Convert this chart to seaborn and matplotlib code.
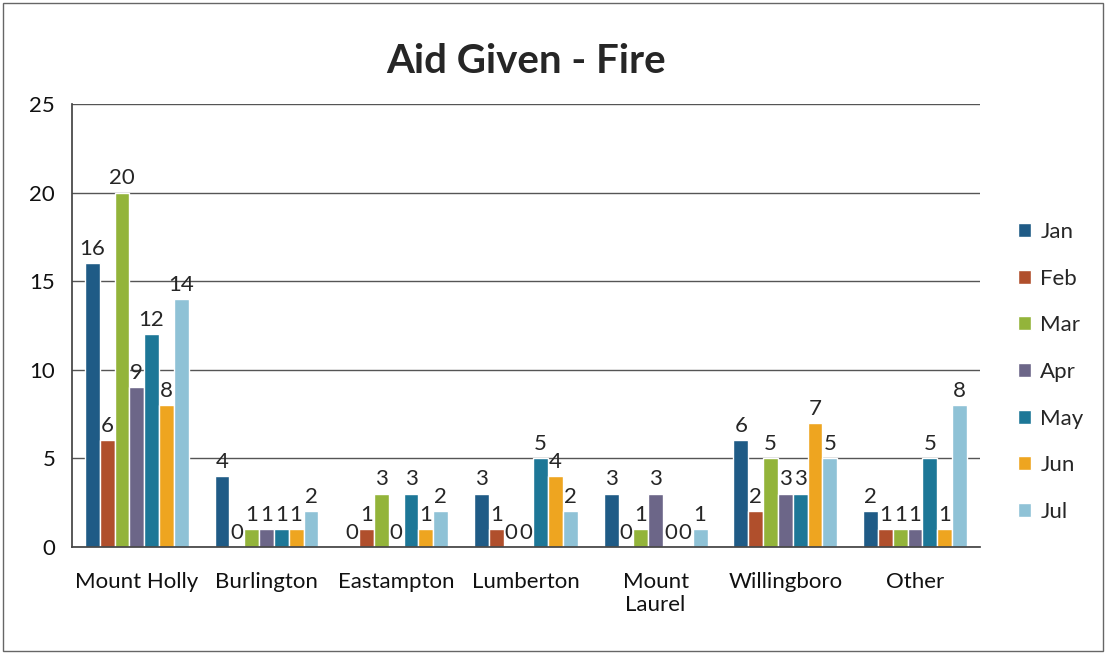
import seaborn as sns
import matplotlib.pyplot as plt
import pandas as pd

towns = ["Mount Holly", "Burlington", "Eastampton", "Lumberton",
         "Mount\nLaurel", "Willingboro", "Other"]
months = ["Jan", "Feb", "Mar", "Apr", "May", "Jun", "Jul"]
jan = [16, 4, 0, 3, 3, 6, 2]
feb = [6, 0, 1, 1, 0, 2, 1]
mar = [20, 1, 3, 0, 1, 5, 1]
apr = [9, 1, 0, 0, 3, 3, 1]
may = [12, 1, 3, 5, 0, 3, 5]
jun = [8, 1, 1, 4, 0, 7, 1]
jul = [14, 2, 2, 2, 1, 5, 8]
colors = ["#1f5b86", "#b04f2c", "#93b43a", "#6c6688", "#1d7797", "#eea520", "#8fc2d6"]

series = [jan, feb, mar, apr, may, jun, jul]
rows = []
for m, vals in zip(months, series):
    for t, v in zip(towns, vals):
        rows.append({"town": t, "month": m, "count": v})
df = pd.DataFrame(rows)

sns.set_theme(style="white")
plt.rcParams["font.family"] = ["Lato", "DejaVu Sans"]

fig = plt.figure(figsize=(11.06, 6.54), dpi=100)
ax = fig.add_axes([0.065, 0.164, 0.821, 0.677])

sns.barplot(data=df, x="town", y="count", hue="month", palette=colors,
            saturation=1, ax=ax, order=towns, hue_order=months)

for c in ax.containers:
    ax.bar_label(c, fontsize=16, padding=3)

ax.set_ylim(0, 25)
ax.set_yticks(range(0, 26, 5))
ax.yaxis.grid(True, color="#555555", linewidth=1)
ax.set_axisbelow(True)
ax.set_xlabel("")
ax.set_ylabel("")
ax.tick_params(axis="both", labelsize=16, length=0, colors="#111111")
ax.set_xticks([i + 0.5 for i in range(-1, 7)], minor=True)
ax.tick_params(axis="x", which="minor", length=5, color="#444444", direction="out")
ax.tick_params(axis="x", pad=18)
ax.tick_params(axis="y", pad=12)
for s in ["top", "right"]:
    ax.spines[s].set_visible(False)
ax.spines["left"].set_color("#444444")
ax.spines["bottom"].set_color("#444444")

ax.set_title("Aid Given - Fire", fontsize=29, fontweight="bold", pad=22)

leg = ax.legend(loc="center left", bbox_to_anchor=(1.02, 0.395), frameon=False,
                fontsize=16, handlelength=0.6, handleheight=0.6,
                handletextpad=0.4, labelspacing=1.2)

fig.patches.append(plt.Rectangle((0.003, 0.005), 0.994, 0.99, transform=fig.transFigure,
                                 fill=False, edgecolor="#666666", linewidth=1))

plt.savefig("out.png")
